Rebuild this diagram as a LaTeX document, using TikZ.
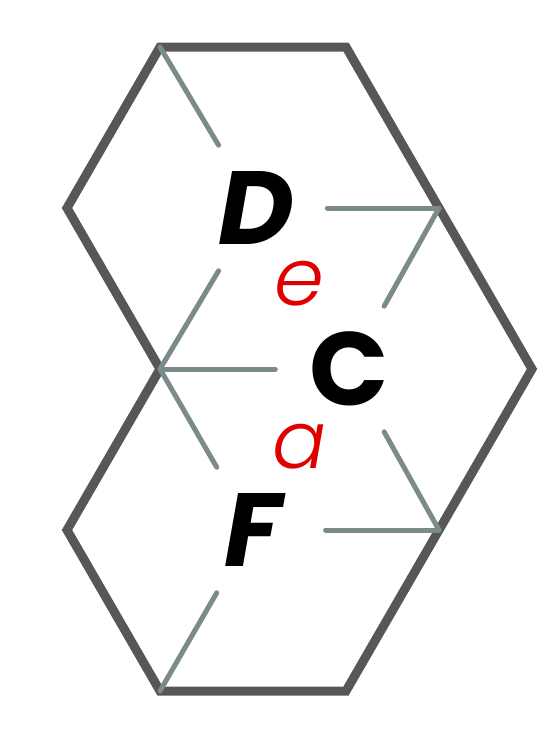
\documentclass[tikz,border=0pt]{standalone}
\usepackage{fontspec}
\setmainfont{Poppins}
\newfontfamily\lightit{Poppins Light Italic}
\usetikzlibrary{calc}
\definecolor{outl}{HTML}{575757}
\definecolor{inner}{HTML}{7B8A8A}
\definecolor{lab}{HTML}{E00000}
\tikzset{
  outline/.style={draw=outl,line width=9pt,line join=miter},
  spoke/.style={draw=inner,line width=5pt,line cap=round},
  big/.style={inner sep=0pt,font=\fontsize{104}{104}\selectfont\bfseries},
  small/.style={inner sep=0pt,font=\fontsize{80}{80}\selectfont\lightit,text=lab}
}
\begin{document}
\begin{tikzpicture}[x=1pt,y=-1pt]
\useasboundingbox (0,0) rectangle (540,734);
% outer vertices
\coordinate (A) at (160,47);
\coordinate (B) at (346,47);
\coordinate (P) at (67,208);
\coordinate (Q) at (439,208);
\coordinate (M) at (160,369);
\coordinate (R) at (532,369);
\coordinate (S) at (67,530);
\coordinate (T) at (439,530);
\coordinate (U) at (160,691);
\coordinate (V) at (346,691);
% hidden inner vertices
\coordinate (cD) at (256,208);
\coordinate (cC) at (349,369);
\coordinate (cF) at (253,530);
\draw[outline] (A) -- (B) -- (Q) -- (R) -- (T) -- (V) -- (U) -- (S) -- (M) -- (P) -- cycle;
\foreach \v/\c in {A/cD,Q/cD,M/cD,Q/cC,M/cC,T/cC,M/cF,T/cF,U/cF}
  \draw[spoke] (\v) -- ($(\v)!0.61!(\c)$);
\node[big] (D) at (cD) {\itshape D};
\node[big] (C) at (cC) {C};
\node[big] (F) at (cF) {\itshape F};
\node[small] (e) at (299,284) {e};
\node[small] (a) at (299,447) {a};
\end{tikzpicture}
\end{document}
